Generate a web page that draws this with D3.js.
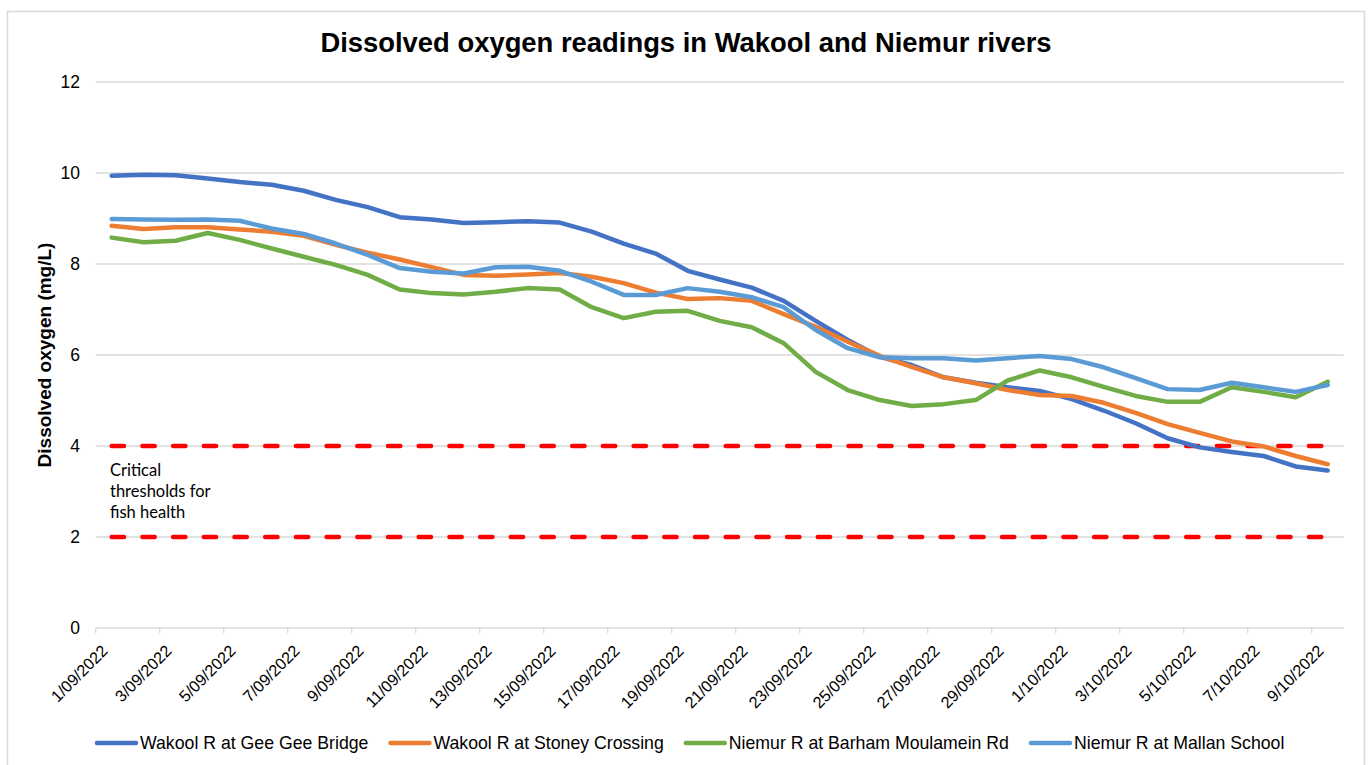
<html>
<head>
<title>Dissolved oxygen readings</title>
<style>
  body { margin: 0; background: #fff; }
  text { font-family: "Liberation Sans", Arial, sans-serif; fill: #000; }
</style>
</head>
<body>
<div id="chart"></div>
<script src="https://d3js.org/d3.v7.min.js"></script>
<script>
var dates = ["1/09/2022","2/09/2022","3/09/2022","4/09/2022","5/09/2022","6/09/2022","7/09/2022","8/09/2022",
  "9/09/2022","10/09/2022","11/09/2022","12/09/2022","13/09/2022","14/09/2022","15/09/2022","16/09/2022",
  "17/09/2022","18/09/2022","19/09/2022","20/09/2022","21/09/2022","22/09/2022","23/09/2022","24/09/2022",
  "25/09/2022","26/09/2022","27/09/2022","28/09/2022","29/09/2022","30/09/2022","1/10/2022","2/10/2022",
  "3/10/2022","4/10/2022","5/10/2022","6/10/2022","7/10/2022","8/10/2022","9/10/2022"];

var geeGee = [9.94,9.96,9.95,9.88,9.80,9.74,9.61,9.41,9.25,9.03,8.98,8.90,8.92,8.94,8.91,8.71,
  8.45,8.23,7.85,7.66,7.48,7.19,6.75,6.33,5.96,5.78,5.51,5.39,5.29,5.21,5.03,4.78,
  4.50,4.17,3.97,3.87,3.78,3.55,3.46];
var stoney = [8.84,8.77,8.81,8.81,8.76,8.71,8.62,8.42,8.25,8.10,7.93,7.76,7.74,7.77,7.80,7.72,
  7.58,7.37,7.23,7.25,7.19,6.90,6.62,6.29,5.98,5.74,5.51,5.38,5.23,5.12,5.10,4.95,
  4.73,4.48,4.29,4.10,3.99,3.78,3.60];
var barham = [8.58,8.48,8.51,8.68,8.53,8.34,8.16,7.98,7.76,7.44,7.36,7.33,7.39,7.47,7.44,7.05,
  6.81,6.95,6.97,6.75,6.61,6.26,5.63,5.23,5.01,4.88,4.92,5.01,5.44,5.66,5.51,5.30,
  5.10,4.97,4.97,5.29,5.19,5.07,5.41];
var mallan = [8.99,8.98,8.97,8.98,8.95,8.78,8.66,8.45,8.20,7.91,7.83,7.79,7.93,7.94,7.85,7.61,
  7.32,7.32,7.47,7.39,7.27,7.05,6.55,6.15,5.95,5.93,5.93,5.88,5.93,5.98,5.91,5.73,
  5.49,5.25,5.23,5.39,5.29,5.19,5.34];

var seriesNames = ["Wakool R at Gee Gee Bridge","Wakool R at Stoney Crossing",
  "Niemur R at Barham Moulamein Rd","Niemur R at Mallan School"];
var seriesValues = [geeGee, stoney, barham, mallan];
var seriesColors = ["#4472C4","#ED7D31","#70AD47","#5B9BD5"];

var yTicks = [0,2,4,6,8,10,12];
var thresholds = [4, 2];
var noteLines = ["Critical","thresholds for","fish health"];

var width = 1369, height = 765;
var margin = {left: 95.7, right: 1343.7, top: 82, bottom: 628};

var svg = d3.select("#chart").append("svg")
    .attr("width", width)
    .attr("height", height);

// outer chart frame
svg.append("rect")
   .attr("x", 7.5).attr("y", 11.5)
   .attr("width", 1357).attr("height", 770)
   .attr("fill", "none")
   .attr("stroke", "#d9d9d9")
   .attr("stroke-width", 1.5);

var x = d3.scaleBand()
    .domain(dates)
    .range([margin.left, margin.right])
    .padding(0);

var y = d3.scaleLinear()
    .domain([0, 12])
    .range([margin.bottom, margin.top]);

function cx(d){ return x(d) + x.bandwidth()/2; }

// gridlines
svg.append("g")
   .selectAll("line")
   .data(yTicks.filter(function(t){ return t > 0; }))
   .enter().append("line")
   .attr("x1", margin.left).attr("x2", margin.right)
   .attr("y1", function(d){ return y(d); })
   .attr("y2", function(d){ return y(d); })
   .attr("stroke", "#d9d9d9")
   .attr("stroke-width", 1.3);

// y tick labels
svg.append("g")
   .selectAll("text")
   .data(yTicks)
   .enter().append("text")
   .attr("x", 80)
   .attr("y", function(d){ return y(d); })
   .attr("dy", "0.35em")
   .attr("text-anchor", "end")
   .style("font-size", "17.5px")
   .text(function(d){ return d; });

// x axis line + ticks every 2 days
svg.append("line")
   .attr("x1", margin.left).attr("x2", margin.right)
   .attr("y1", y(0)).attr("y2", y(0))
   .attr("stroke", "#d9d9d9")
   .attr("stroke-width", 1.3);

var labelled = dates.filter(function(d, i){ return i % 2 === 0; });

svg.append("g")
   .selectAll("line")
   .data(labelled)
   .enter().append("line")
   .attr("x1", function(d){ return x(d); })
   .attr("x2", function(d){ return x(d); })
   .attr("y1", y(0)).attr("y2", y(0) + 5)
   .attr("stroke", "#d9d9d9")
   .attr("stroke-width", 1.3);

svg.append("g")
   .selectAll("text")
   .data(labelled)
   .enter().append("text")
   .attr("transform", function(d){ return "translate(" + (cx(d) - 3) + "," + 652 + ") rotate(-45)"; })
   .attr("text-anchor", "end")
   .style("font-size", "16.2px")
   .text(function(d){ return d; });

// threshold lines
svg.append("g")
   .selectAll("line")
   .data(thresholds)
   .enter().append("line")
   .attr("x1", cx(dates[0]))
   .attr("x2", cx(dates[dates.length - 1]))
   .attr("y1", function(d){ return y(d); })
   .attr("y2", function(d){ return y(d); })
   .attr("stroke", "#ff0000")
   .attr("stroke-width", 4.5)
   .attr("stroke-linecap", "round")
   .attr("stroke-dasharray", "12.3 18.4");

// threshold note
svg.append("text")
   .attr("x", 110)
   .attr("y", 476)
   .style("font-family", "Lato, 'Open Sans', sans-serif")
   .style("font-size", "16.5px")
   .selectAll("tspan")
   .data(noteLines)
   .enter().append("tspan")
   .attr("x", 110)
   .attr("dy", function(d, i){ return i ? 21 : 0; })
   .text(function(d){ return d; });

// series lines
var line = d3.line()
    .x(function(d, i){ return cx(dates[i]); })
    .y(function(d){ return y(d); });

svg.append("g")
   .selectAll("path")
   .data(seriesValues)
   .enter().append("path")
   .attr("d", line)
   .attr("fill", "none")
   .attr("stroke", function(d, i){ return seriesColors[i]; })
   .attr("stroke-width", 4.5)
   .attr("stroke-linejoin", "round")
   .attr("stroke-linecap", "round");

// title
svg.append("text")
   .attr("x", 686)
   .attr("y", 52)
   .attr("text-anchor", "middle")
   .style("font-size", "27.4px")
   .style("font-weight", "bold")
   .text("Dissolved oxygen readings in Wakool and Niemur rivers");

// y axis title
svg.append("text")
   .attr("transform", "translate(51," + ((margin.top + margin.bottom)/2) + ") rotate(-90)")
   .attr("text-anchor", "middle")
   .style("font-size", "19px")
   .style("font-weight", "bold")
   .text("Dissolved oxygen (mg/L)");

// legend
var legend = svg.append("g").attr("class", "legend");
var lx = 97, ly = 743;
seriesNames.forEach(function(name, i){
    var g = legend.append("g").attr("transform", "translate(" + lx + "," + ly + ")");
    g.append("line")
     .attr("x1", 0).attr("x2", 39)
     .attr("y1", 0).attr("y2", 0)
     .attr("stroke", seriesColors[i])
     .attr("stroke-width", 4.5)
     .attr("stroke-linecap", "round");
    var t = g.append("text")
     .attr("x", 43)
     .attr("y", 0)
     .attr("dy", "0.35em")
     .style("font-size", "17.7px")
     .text(name);
    lx += 43 + t.node().getComputedTextLength() + 22;
});
</script>
</body>
</html>
